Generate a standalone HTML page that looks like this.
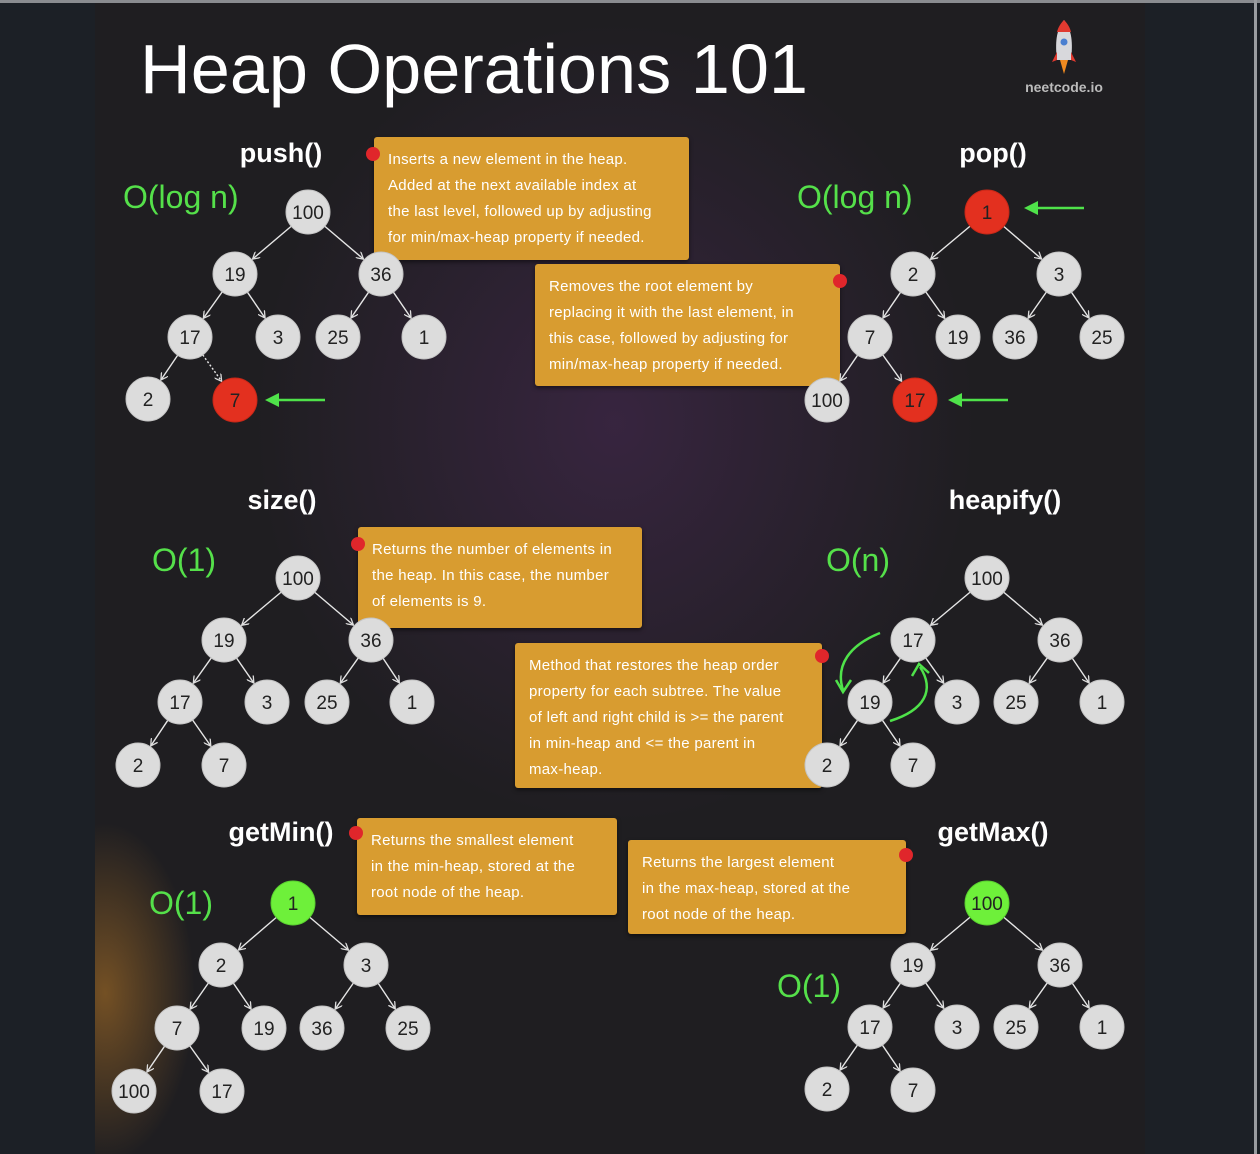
<!DOCTYPE html>
<html><head><meta charset="utf-8"><style>
html,body{margin:0;padding:0;background:#1c2026;}
#w{position:relative;width:1260px;height:1154px;overflow:hidden;background:#1c2026;font-family:"Liberation Sans",sans-serif;}
#top{position:absolute;left:0;top:0;width:1260px;height:3px;background:#8a8c90;}
#main{position:absolute;left:95px;top:3px;width:1050px;height:1151px;background:
radial-gradient(ellipse 360px 400px at 520px 420px, rgba(85,45,100,0.45), rgba(0,0,0,0) 100%),
radial-gradient(ellipse 90px 170px at 10px 990px, rgba(200,130,40,0.5), rgba(0,0,0,0) 100%),
#1f1e21;}
#rb{position:absolute;left:1254px;top:0;width:3px;height:1154px;background:#9a9ca0;}
.box{position:absolute;background:#d89c30;color:#fff;font-size:15px;letter-spacing:0.3px;line-height:26px;padding:10px 14px;box-sizing:border-box;border-radius:3px;box-shadow:0 2px 4px rgba(0,0,0,.5);white-space:nowrap;}
.dot{position:absolute;width:14px;height:14px;border-radius:50%;background:#e0262b;}
svg{position:absolute;left:0;top:0;}
</style></head><body><div id="w">
<div id="top"></div><div id="main"></div><div id="rb"></div>

<div class="box" style="left:374px;top:137px;width:315px;height:123px;padding-top:10px;">Inserts a new element in the heap.<br>Added at the next available index at<br>the last level, followed up by adjusting<br>for min/max-heap property if needed.</div>
<div class="dot" style="left:366px;top:147px"></div>
<div class="box" style="left:535px;top:264px;width:305px;height:122px;">Removes the root element by<br>replacing it with the last element, in<br>this case, followed by adjusting for<br>min/max-heap property if needed.</div>
<div class="dot" style="left:833px;top:274px"></div>
<div class="box" style="left:358px;top:527px;width:284px;height:101px;">Returns the number of elements in<br>the heap. In this case, the number<br>of elements is 9.</div>
<div class="dot" style="left:351px;top:537px"></div>
<div class="box" style="left:515px;top:643px;width:307px;height:145px;">Method that restores the heap order<br>property for each subtree. The value<br>of left and right child is &gt;= the parent<br>in min-heap and &lt;= the parent in<br>max-heap.</div>
<div class="dot" style="left:815px;top:649px"></div>
<div class="box" style="left:357px;top:818px;width:260px;height:97px;">Returns the smallest element<br>in the min-heap, stored at the<br>root node of the heap.</div>
<div class="dot" style="left:349px;top:826px"></div>
<div class="box" style="left:628px;top:840px;width:278px;height:94px;">Returns the largest element<br>in the max-heap, stored at the<br>root node of the heap.</div>
<div class="dot" style="left:899px;top:848px"></div>

<svg id="s" width="1260" height="1154" xmlns="http://www.w3.org/2000/svg">
<defs>
<marker id="ah" markerWidth="8" markerHeight="8" refX="7" refY="4" orient="auto" markerUnits="userSpaceOnUse"><path d="M0,0 L7,4 L0,8" fill="none" stroke="#ddd" stroke-width="1.3"/></marker>
</defs>
<g id="edges" stroke="#e6e6e6" stroke-width="1.4" fill="none"></g>
<text x="140" y="93" font-size="70" fill="#fff" textLength="668" lengthAdjust="spacingAndGlyphs">Heap Operations 101</text>
<text x="1064" y="92" font-size="14" font-weight="bold" fill="#bbb" text-anchor="middle">neetcode.io</text>
<g transform="translate(1064,48)"><path d="M0,-28 C8,-18 9,-5 7,12 L-7,12 C-9,-5 -8,-18 0,-28Z" fill="#d8d8dc"/><path d="M0,-28 C4,-24 6,-20 7,-16 L-7,-16 C-6,-20 -4,-24 0,-28Z" fill="#e03a30"/><circle cx="0" cy="-6" r="3.5" fill="#4a7fd0"/><path d="M-7,4 L-12,14 L-7,12Z M7,4 L12,14 L7,12Z" fill="#e03a30"/><path d="M-4,12 L0,26 L4,12Z" fill="#f08a20"/></g>

<g font-weight="bold" font-size="27" fill="#fff" text-anchor="middle">
<text x="281" y="162">push()</text><text x="993" y="162">pop()</text>
<text x="282" y="509">size()</text><text x="1005" y="509">heapify()</text>
<text x="281" y="841">getMin()</text><text x="993" y="841">getMax()</text>
</g>
<g font-size="32" fill="#55e04a">
<text x="123" y="208">O(log n)</text><text x="797" y="208">O(log n)</text>
<text x="152" y="571">O(1)</text><text x="826" y="571">O(n)</text>
<text x="149" y="914">O(1)</text><text x="777" y="997">O(1)</text>
</g>
<g stroke="#4fe24a" stroke-width="2.5" fill="none">
<line x1="325" y1="400" x2="276" y2="400"/>
<line x1="1084" y1="208" x2="1035" y2="208"/>
<line x1="1008" y1="400" x2="959" y2="400"/>
<path d="M880,633 C850,645 835,665 843,690"/><path d="M836,680 L843,692 L851,680"/>
<path d="M890,721 C925,710 935,690 920,667"/><path d="M912,676 L919,664 L929,673"/>
</g>
<g fill="#4fe24a">
<path d="M265,400 L279,393 L279,407Z"/>
<path d="M1024,208 L1038,201 L1038,215Z"/>
<path d="M948,400 L962,393 L962,407Z"/>
</g>
</svg>
<script>
var R=22;
var T=[
[[308,212,'100'],[235,274,'19'],[381,274,'36'],[190,337,'17'],[278,337,'3'],[338,337,'25'],[424,337,'1'],[148,399,'2'],[235,400,'7','r']],
[[987,212,'1','r'],[913,274,'2'],[1059,274,'3'],[870,337,'7'],[958,337,'19'],[1015,337,'36'],[1102,337,'25'],[827,400,'100'],[915,400,'17','r']],
[[298,578,'100'],[224,640,'19'],[371,640,'36'],[180,702,'17'],[267,702,'3'],[327,702,'25'],[412,702,'1'],[138,765,'2'],[224,765,'7']],
[[987,578,'100'],[913,640,'17'],[1060,640,'36'],[870,702,'19'],[957,702,'3'],[1016,702,'25'],[1102,702,'1'],[827,765,'2'],[913,765,'7']],
[[293,903,'1','g'],[221,965,'2'],[366,965,'3'],[177,1028,'7'],[264,1028,'19'],[322,1028,'36'],[408,1028,'25'],[134,1091,'100'],[222,1091,'17']],
[[987,903,'100','g'],[913,965,'19'],[1060,965,'36'],[870,1027,'17'],[957,1027,'3'],[1016,1027,'25'],[1102,1027,'1'],[827,1089,'2'],[913,1090,'7']]];
var P=[-1,0,0,1,1,2,2,3,3],ns='http://www.w3.org/2000/svg';
var E=document.getElementById('edges');
T.forEach(function(t,ti){t.forEach(function(n,i){
 if(P[i]>=0){var p=t[P[i]],dx=n[0]-p[0],dy=n[1]-p[1],d=Math.hypot(dx,dy);
  var l=document.createElementNS(ns,'line');l.setAttribute('x1',p[0]+dx/d*R);l.setAttribute('y1',p[1]+dy/d*R);
  l.setAttribute('x2',n[0]-dx/d*(R+1));l.setAttribute('y2',n[1]-dy/d*(R+1));l.setAttribute('marker-end','url(#ah)');
  if(ti==0&&i==8)l.setAttribute('stroke-dasharray','2,2');E.appendChild(l);}
});});
</script>
<svg width="1260" height="1154" xmlns="http://www.w3.org/2000/svg" font-size="19" text-anchor="middle" style="font-family:'Liberation Sans',sans-serif">
<g id="cc"></g>
<g fill="#222">
<text x="308" y="219">100</text><text x="235" y="281">19</text><text x="381" y="281">36</text><text x="190" y="344">17</text><text x="278" y="344">3</text><text x="338" y="344">25</text><text x="424" y="344">1</text><text x="148" y="406">2</text><text x="235" y="407">7</text>
<text x="987" y="219">1</text><text x="913" y="281">2</text><text x="1059" y="281">3</text><text x="870" y="344">7</text><text x="958" y="344">19</text><text x="1015" y="344">36</text><text x="1102" y="344">25</text><text x="827" y="407">100</text><text x="915" y="407">17</text>
<text x="298" y="585">100</text><text x="224" y="647">19</text><text x="371" y="647">36</text><text x="180" y="709">17</text><text x="267" y="709">3</text><text x="327" y="709">25</text><text x="412" y="709">1</text><text x="138" y="772">2</text><text x="224" y="772">7</text>
<text x="987" y="585">100</text><text x="913" y="647">17</text><text x="1060" y="647">36</text><text x="870" y="709">19</text><text x="957" y="709">3</text><text x="1016" y="709">25</text><text x="1102" y="709">1</text><text x="827" y="772">2</text><text x="913" y="772">7</text>
<text x="293" y="910">1</text><text x="221" y="972">2</text><text x="366" y="972">3</text><text x="177" y="1035">7</text><text x="264" y="1035">19</text><text x="322" y="1035">36</text><text x="408" y="1035">25</text><text x="134" y="1098">100</text><text x="222" y="1098">17</text>
<text x="987" y="910">100</text><text x="913" y="972">19</text><text x="1060" y="972">36</text><text x="870" y="1034">17</text><text x="957" y="1034">3</text><text x="1016" y="1034">25</text><text x="1102" y="1034">1</text><text x="827" y="1096">2</text><text x="913" y="1097">7</text>
</g>
</svg>
<script>
var C=document.getElementById('cc');
T.forEach(function(t){t.forEach(function(n){var c=document.createElementNS(ns,'circle');
c.setAttribute('cx',n[0]);c.setAttribute('cy',n[1]);c.setAttribute('r',R);
c.setAttribute('fill',n[3]=='r'?'#e3301f':n[3]=='g'?'#6ef03a':'#dcdcdc');
c.setAttribute('stroke',n[3]=='r'?'#c82818':n[3]=='g'?'#5ad030':'#c4c4c4');C.appendChild(c);});});
</script>
</div></body></html>
